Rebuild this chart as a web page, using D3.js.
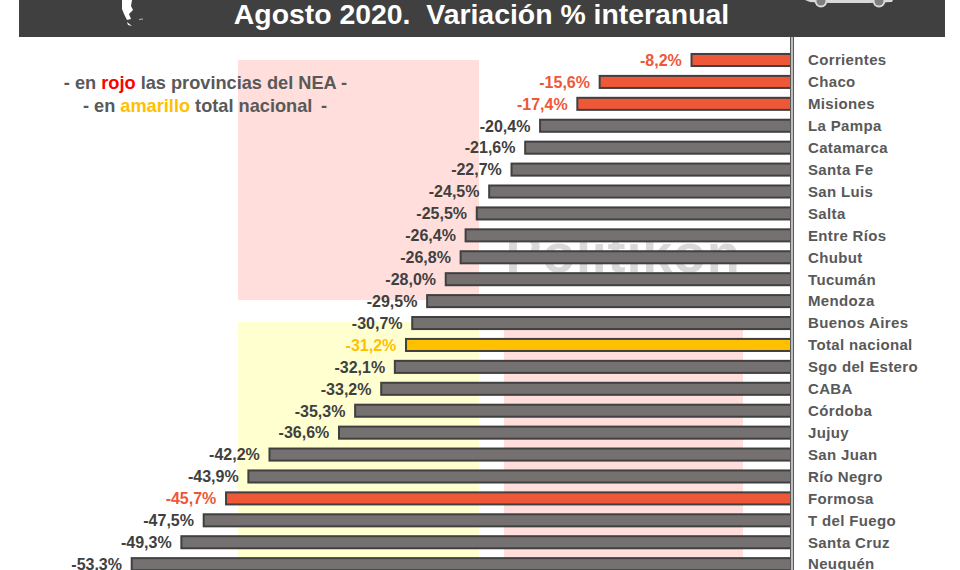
<!DOCTYPE html>
<html><head><meta charset="utf-8">
<script src="https://cdn.jsdelivr.net/npm/d3@7"></script>
<style>html,body{margin:0;padding:0;background:#fff}svg{display:block}text{font-family:"Liberation Sans",Arial,sans-serif;font-weight:700}</style>
</head><body><svg id="c" width="960" height="570"></svg>
<script>
const provinces=["Corrientes","Chaco","Misiones","La Pampa","Catamarca","Santa Fe","San Luis","Salta","Entre Ríos","Chubut","Tucumán","Mendoza","Buenos Aires","Total nacional","Sgo del Estero","CABA","Córdoba","Jujuy","San Juan","Río Negro","Formosa","T del Fuego","Santa Cruz","Neuquén"];
const values=[-8.2,-15.6,-17.4,-20.4,-21.6,-22.7,-24.5,-25.5,-26.4,-26.8,-28.0,-29.5,-30.7,-31.2,-32.1,-33.2,-35.3,-36.6,-42.2,-43.9,-45.7,-47.5,-49.3,-53.3];
const redProvinces=["Corrientes","Chaco","Misiones","Formosa"];
const nationalTotal="Total nacional";
const titleText="Agosto 2020.  Variación % interanual";
const watermark="Politikon";

const svg=d3.select("#c");
const x=d3.scaleLinear().domain([-53.3,0]).range([131.7,793.3]);
const y=d3.scaleBand().domain(provinces).range([49.04,49.04+21.92*24]).paddingInner(0.45).paddingOuter(0.225);
const RED="#ee5738",GREY="#767171",GOLD="#ffc000",DARK="#404040";
const axisX=792;
const fillOf=n=>n===nationalTotal?GOLD:redProvinces.includes(n)?RED:GREY;
const labOf=n=>n===nationalTotal?GOLD:redProvinces.includes(n)?RED:DARK;

// watermark panels
[[238,60,241,240,"#ffdedb"],[238,322,241,248,"#ffffd0"],[504,330,239,240,"#ffdedb"]].forEach(r=>
  svg.append("rect").attr("x",r[0]).attr("y",r[1]).attr("width",r[2]).attr("height",r[3]).attr("fill",r[4]));
svg.append("text").attr("x",623).attr("y",272).attr("text-anchor","middle").attr("font-size",54)
  .attr("letter-spacing",0.8).attr("fill","#d9d9d9").text(watermark);

// header
svg.append("rect").attr("x",19).attr("y",0).attr("width",926).attr("height",37).attr("fill",DARK);
svg.append("text").attr("x",481.5).attr("y",24).attr("text-anchor","middle").attr("font-size",28.4).attr("fill","#fff").style("white-space","pre").text(titleText);

// bars
svg.selectAll("rect.bar").data(provinces).join("rect").attr("class","bar")
  .attr("x",(d,i)=>x(values[i])).attr("width",(d,i)=>axisX-1-x(values[i]))
  .attr("y",d=>y(d)).attr("height",y.bandwidth())
  .attr("fill",fillOf).attr("stroke",DARK).attr("stroke-width",2);

// axis line
svg.append("line").attr("x1",axisX).attr("x2",axisX).attr("y1",37).attr("y2",570).attr("stroke","#595959").attr("stroke-width",4);
svg.append("line").attr("x1",axisX).attr("x2",axisX).attr("y1",37).attr("y2",570).attr("stroke","#bfbfbf").attr("stroke-width",2);

// value labels
svg.selectAll("text.val").data(provinces).join("text").attr("class","val")
  .attr("x",(d,i)=>x(values[i])-9.7).attr("y",d=>y(d)+y.bandwidth()/2+5.8)
  .attr("text-anchor","end").attr("font-size",16).attr("fill",labOf)
  .text((d,i)=>d3.format(".1f")(values[i]).replace("−","-").replace(".",",")+"%");

// category labels
svg.selectAll("text.cat").data(provinces).join("text").attr("class","cat")
  .attr("x",808).attr("y",d=>y(d)+y.bandwidth()/2+5.3)
  .attr("font-size",15).attr("letter-spacing",0.35).attr("fill","#595959").text(d=>d);

// note
const note=[[205.5,89,[["- en ","#595959"],["rojo","#ff0000"],[" las provincias del NEA -","#595959"]]],
            [205,111.5,[["- en ","#595959"],["amarillo",GOLD],[" total nacional\u2009 -","#595959"]]]];
note.forEach(n=>{const t=svg.append("text").attr("x",n[0]).attr("y",n[1]).attr("text-anchor","middle").attr("font-size",18.2).style("white-space","pre");
  n[2].forEach(s=>t.append("tspan").attr("fill",s[1]).text(s[0]));});

// logo fragments
svg.append("path").attr("d","M122 0L132 0L131 6L133 10L129 14L131 19L127 20L124 14L122 9Z").attr("fill","#fff");
svg.append("path").attr("d","M127 22L132 26L128 25Z").attr("fill","#fff");
svg.append("path").attr("d","M139 19L143 18.5L143 19.5L139 20Z").attr("fill","#bbb");
svg.append("path").attr("d","M805 0L893 0L892 2L870 3L830 3L810 2Z").attr("fill","#d9d9d9");
[821,879].forEach(cx=>{svg.append("circle").attr("cx",cx).attr("cy",1).attr("r",6.5).attr("fill","#d9d9d9");
  svg.append("circle").attr("cx",cx).attr("cy",1).attr("r",4.5).attr("fill","#7f7f7f");});
</script></body></html>
